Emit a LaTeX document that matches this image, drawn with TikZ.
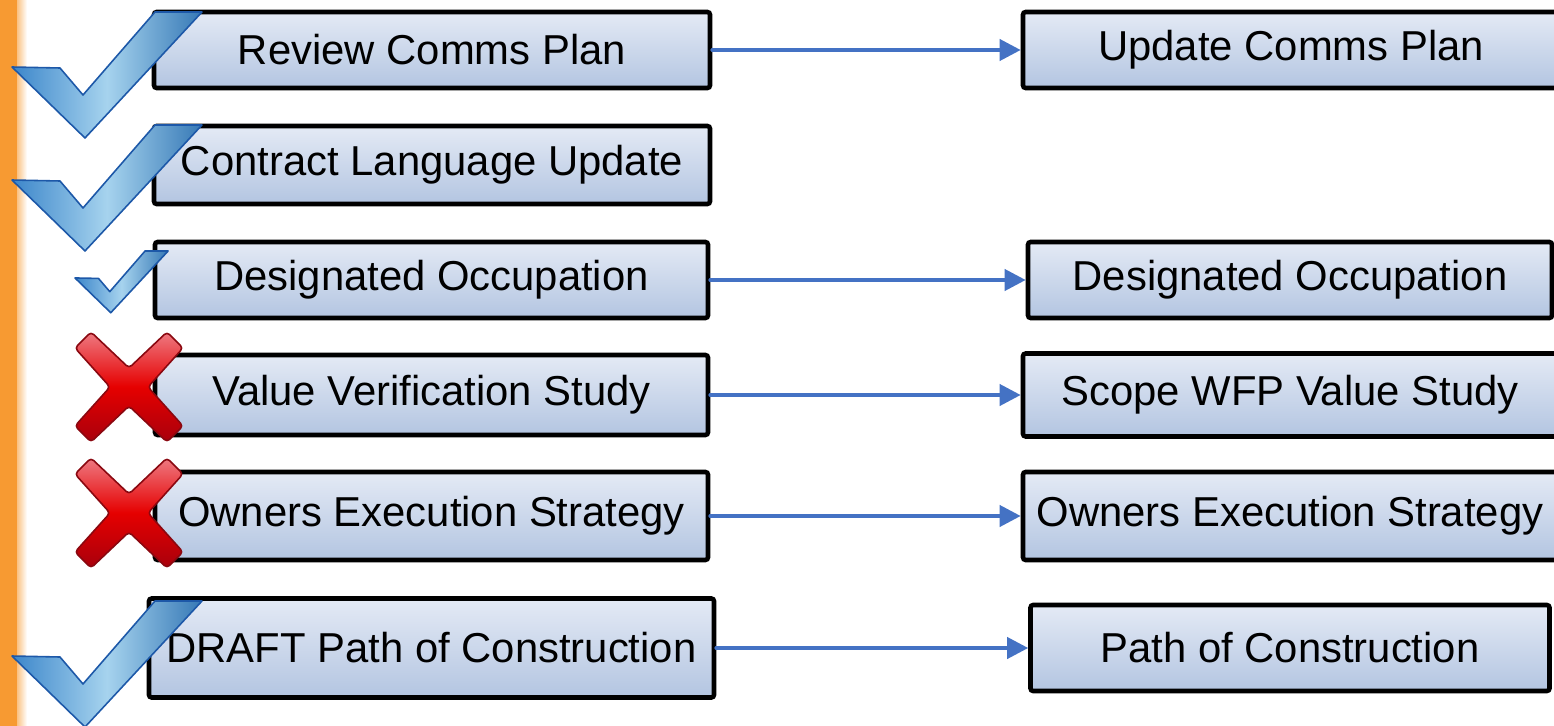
\documentclass[tikz,border=0pt]{standalone}
\usepackage{fontspec}
\setmainfont{Liberation Sans}
\usetikzlibrary{arrows.meta}

\definecolor{boxlight}{HTML}{E4EAF5}
\definecolor{boxdark}{HTML}{B3C5E1}
\definecolor{linkblue}{HTML}{4472C4}
\definecolor{barorange}{HTML}{F79A32}
\definecolor{ticklight}{HTML}{A6D3EE}
\definecolor{tickdark}{HTML}{3C86CA}
\definecolor{tickedge}{HTML}{1D58A8}
\definecolor{crosslight}{HTML}{EE7A82}
\definecolor{crossdark}{HTML}{A8000C}
\definecolor{crossedge}{HTML}{8A0810}

\tikzset{
  okmark/.pic={
    \draw[tickedge, line width=0.9pt, line join=round,
          left color=tickdark, right color=tickdark!90!black, middle color=ticklight]
      (0,55) -- (48,56) -- (71,83) -- (143,0) -- (190,0) -- (73,126) -- cycle;
  },
  nomark/.pic={
    \draw[crossedge, line width=0.9pt, rounded corners=2pt,
          top color=crosslight, bottom color=crossdark, middle color=red!90!black]
      (0,-19) -- (38,-55) -- (54,-39) -- (19,0) -- (54,39) -- (38,55) -- (0,19)
      -- (-38,55) -- (-54,39) -- (-19,0) -- (-54,-39) -- (-38,-55) -- cycle;
  }
}

\begin{document}
\begin{tikzpicture}[x=0.02cm, y=-0.02cm,
    task/.style = {draw=black, line width=2.6pt, rounded corners=1.5pt,
                   top color=boxlight, bottom color=boxdark,
                   inner sep=0pt, anchor=center,
                   font=\fontsize{23.8}{28}\selectfont},
    link/.style = {draw=linkblue, line width=2.2pt, line cap=round,
                   -{Triangle[length=0.42cm, width=0.42cm]}}]
	\useasboundingbox (0,0) rectangle (1554,726);
	\clip (0,0) rectangle (1554,726);

	% side bar
	\fill[barorange] (0,0) rectangle (17,726);
	\shade[left color=barorange!60!white, right color=white] (17,0) rectangle (27,726);

	% left column
	\node[task, minimum width=556*0.02cm, minimum height=76*0.02cm] (l1) at (432,50) {Review Comms Plan};
	\node[task, minimum width=556*0.02cm, minimum height=78*0.02cm] (l2) at (432,165) {Contract Language Update};
	\node[task, minimum width=553*0.02cm, minimum height=76*0.02cm] (l3) at (431.5,280) {Designated Occupation};
	\node[task, minimum width=553*0.02cm, minimum height=80*0.02cm] (l4) at (431.5,395) {Value Verification Study};
	\node[task, minimum width=553*0.02cm, minimum height=88*0.02cm] (l5) at (431.5,516) {Owners Execution Strategy};
	\node[task, minimum width=565*0.02cm, minimum height=99*0.02cm] (l6) at (431.5,648) {DRAFT Path of Construction};

	% right column
	\node[task, minimum width=560*0.02cm, minimum height=76*0.02cm] (r1) at (1303,50) {\hspace*{-13.6pt}Update Comms Plan};
	\node[task, minimum width=524*0.02cm, minimum height=76*0.02cm] (r3) at (1290,280) {Designated Occupation};
	\node[task, minimum width=534*0.02cm, minimum height=83*0.02cm] (r4) at (1290,395) {Scope WFP Value Study};
	\node[task, minimum width=534*0.02cm, minimum height=88*0.02cm] (r5) at (1290,516) {Owners Execution Strategy};
	\node[task, minimum width=519*0.02cm, minimum height=86*0.02cm] (r6) at (1290,648) {Path of Construction};

	\draw[link] (l1) -- (r1);
	\draw[link] (l3) -- (r3);
	\draw[link] (l4) -- (r4);
	\draw[link] (l5) -- (r5);
	\draw[link] (l6) -- (r6);

	% status marks
	\pic at (12,12) {okmark};
	\pic at (12,125) {okmark};
	\pic[scale=0.49] at (75,251) {okmark};
	\pic at (129,387) {nomark};
	\pic at (129,513) {nomark};
	\pic at (12,601) {okmark};

\end{tikzpicture}
\end{document}
